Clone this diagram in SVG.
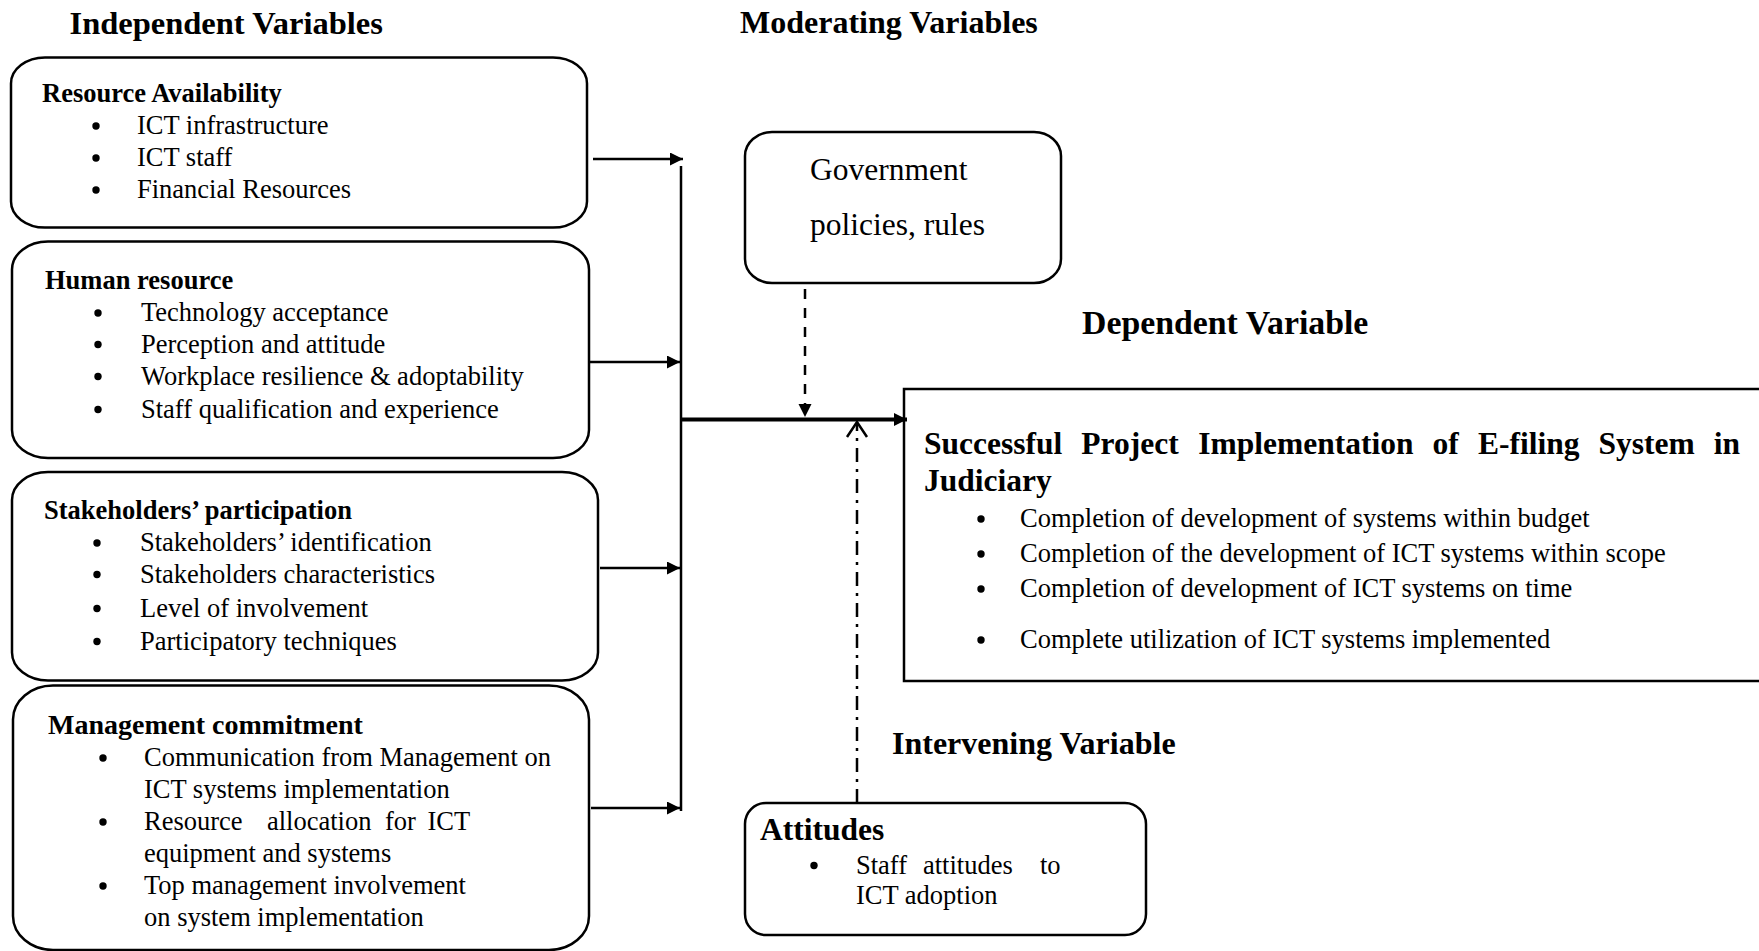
<svg xmlns="http://www.w3.org/2000/svg" width="1759" height="951" viewBox="0 0 1759 951">
<style>
  text { font-family: "Liberation Serif", "Times New Roman", serif; fill: #000; }
  .body { font-size: 26.5px; }
  .hd { font-size: 26.5px; font-weight: bold; }
  .title { font-size: 32px; font-weight: bold; }
  .big { font-size: 31.5px; }
  .box { fill: #fff; stroke: #000; stroke-width: 2.5; }
  .dot { fill: #000; }
  .ln { stroke: #000; stroke-width: 2.5; fill: none; }
</style>
<defs>
  <marker id="ah" markerUnits="userSpaceOnUse" markerWidth="14" markerHeight="14" refX="13" refY="6.5" orient="auto">
    <path d="M0,0 L13,6.5 L0,13 Z" fill="#000"/>
  </marker>
</defs>
<rect width="1759" height="951" fill="#fff"/>

<g id="titles">
  <text class="title" x="69.5" y="34" style="font-size:32.5px">Independent Variables</text>
  <text class="title" x="740" y="33">Moderating Variables</text>
  <text class="title" x="1082" y="334" style="font-size:33.8px">Dependent Variable</text>
  <text class="title" x="892" y="754">Intervening Variable</text>
</g>

<g id="node-resource">
  <rect class="box" x="11" y="57.5" width="576" height="170" rx="34" ry="26"/>
  <text class="hd" x="42" y="102">Resource Availability</text>
  <circle class="dot" cx="96" cy="126" r="3.7"/><text class="body" x="137" y="134">ICT infrastructure</text>
  <circle class="dot" cx="96" cy="158" r="3.7"/><text class="body" x="137" y="166">ICT staff</text>
  <circle class="dot" cx="96" cy="190" r="3.7"/><text class="body" x="137" y="198">Financial Resources</text>
</g>

<g id="node-human">
  <rect class="box" x="12" y="241.5" width="577" height="216.5" rx="36" ry="28"/>
  <text class="hd" x="45" y="289">Human resource</text>
  <circle class="dot" cx="98" cy="313" r="3.7"/><text class="body" x="141" y="321">Technology acceptance</text>
  <circle class="dot" cx="98" cy="344.5" r="3.7"/><text class="body" x="141" y="352.5">Perception and attitude</text>
  <circle class="dot" cx="98" cy="376.5" r="3.7"/><text class="body" x="141" y="384.5">Workplace resilience &amp; adoptability</text>
  <circle class="dot" cx="98" cy="409.5" r="3.7"/><text class="body" x="141" y="417.5">Staff qualification and experience</text>
</g>

<g id="node-stakeholders">
  <rect class="box" x="12" y="472" width="586" height="208.5" rx="36" ry="28"/>
  <text class="hd" x="44" y="519">Stakeholders’ participation</text>
  <circle class="dot" cx="97" cy="543" r="3.7"/><text class="body" x="140" y="551">Stakeholders’ identification</text>
  <circle class="dot" cx="97" cy="574.5" r="3.7"/><text class="body" x="140" y="582.5">Stakeholders characteristics</text>
  <circle class="dot" cx="97" cy="608.5" r="3.7"/><text class="body" x="140" y="616.5">Level of involvement</text>
  <circle class="dot" cx="97" cy="641.5" r="3.7"/><text class="body" x="140" y="649.5">Participatory techniques</text>
</g>

<g id="node-management">
  <rect class="box" x="13" y="685.5" width="576" height="264.5" rx="40" ry="34"/>
  <text class="hd" x="48" y="734" style="font-size:28px">Management commitment</text>
  <circle class="dot" cx="103" cy="758" r="3.7"/><text class="body" x="144" y="766">Communication from Management on</text>
  <text class="body" x="144" y="798">ICT systems implementation</text>
  <circle class="dot" cx="103" cy="822" r="3.7"/><text class="body" y="830"><tspan x="144">Resource</tspan><tspan x="267">allocation</tspan><tspan x="385">for</tspan><tspan x="427.5">ICT</tspan></text>
  <text class="body" x="144" y="862">equipment and systems</text>
  <circle class="dot" cx="103" cy="886" r="3.7"/><text class="body" x="144" y="894">Top management involvement</text>
  <text class="body" x="144" y="926">on system implementation</text>
</g>

<g id="node-government">
  <rect class="box" x="745" y="132" width="316" height="151" rx="27" ry="24"/>
  <text class="big" x="810" y="180">Government</text>
  <text class="big" x="810" y="235">policies, rules</text>
</g>

<g id="node-dependent">
  <rect class="box" x="904" y="389" width="900" height="292"/>
  <text class="title" style="font-size:31.5px" y="454"><tspan x="924">Successful</tspan><tspan x="1081.3">Project</tspan><tspan x="1198.3">Implementation</tspan><tspan x="1432.6">of</tspan><tspan x="1477.9">E-filing</tspan><tspan x="1598.5">System</tspan><tspan x="1713.7">in</tspan></text>
  <text class="title" style="font-size:31.5px" x="924" y="491">Judiciary</text>
  <circle class="dot" cx="981" cy="519" r="3.7"/><text class="body" x="1020" y="527">Completion of development of systems within budget</text>
  <circle class="dot" cx="981" cy="554" r="3.7"/><text class="body" x="1020" y="562">Completion of the development of ICT systems within scope</text>
  <circle class="dot" cx="981" cy="589" r="3.7"/><text class="body" x="1020" y="597">Completion of development of ICT systems on time</text>
  <circle class="dot" cx="981" cy="640" r="3.7"/><text class="body" x="1020" y="648">Complete utilization of ICT systems implemented</text>
</g>

<g id="node-attitudes">
  <rect class="box" x="745" y="803" width="401" height="132" rx="21" ry="21"/>
  <text class="title" style="font-size:31.5px" x="760" y="840">Attitudes</text>
  <circle class="dot" cx="814" cy="865.5" r="3.7"/><text class="body" y="873.5"><tspan x="856">Staff</tspan><tspan x="923">attitudes</tspan><tspan x="1040">to</tspan></text>
  <text class="body" x="856" y="903.5">ICT adoption</text>
</g>

<g id="connectors">
  <line class="ln" x1="593" y1="159" x2="683" y2="159" marker-end="url(#ah)"/>
  <line class="ln" x1="590" y1="362" x2="680" y2="362" marker-end="url(#ah)"/>
  <line class="ln" x1="600" y1="568" x2="680" y2="568" marker-end="url(#ah)"/>
  <line class="ln" x1="591" y1="808" x2="680" y2="808" marker-end="url(#ah)"/>
  <line class="ln" x1="681" y1="166" x2="681" y2="811"/>
  <line x1="680" y1="419.5" x2="907" y2="419.5" stroke="#000" stroke-width="4" marker-end="url(#ah)"/>
  <line class="ln" x1="805" y1="289" x2="805" y2="417" stroke-dasharray="10 9" marker-end="url(#ah)"/>
  <line class="ln" x1="857" y1="803" x2="857" y2="424" stroke-dasharray="14 7 3 7"/>
  <path class="ln" d="M847,437 L857,422 L867,437"/>
</g>
</svg>
